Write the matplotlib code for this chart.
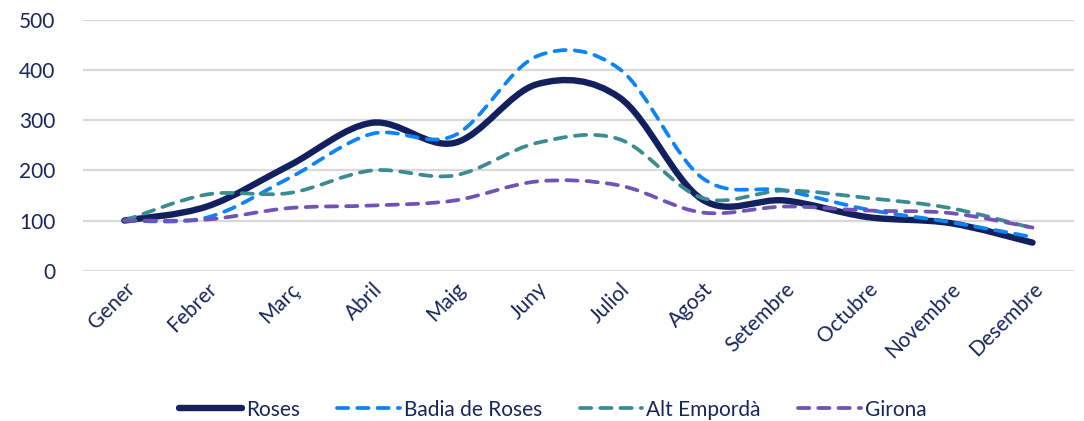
import numpy as np
import matplotlib
matplotlib.use("Agg")
import matplotlib.pyplot as plt
from matplotlib.path import Path
from matplotlib.patches import PathPatch
from matplotlib.lines import Line2D

plt.rcParams['font.family'] = ['Lato', 'DejaVu Sans']

months = ['Gener', 'Febrer', 'Març', 'Abril', 'Maig', 'Juny', 'Juliol',
          'Agost', 'Setembre', 'Octubre', 'Novembre', 'Desembre']
roses = [100, 128, 210, 295, 255, 372, 345, 142, 140, 107, 95, 56]
badia = [100, 106, 185, 273, 270, 428, 402, 185, 160, 122, 97, 67]
alt_emporda = [100, 152, 155, 200, 190, 255, 262, 145, 160, 145, 125, 85]
girona = [100, 102, 125, 130, 140, 178, 170, 116, 128, 120, 115, 86]

series = [
    ('Roses', roses, '#13205e', 4.6, None),
    ('Badia de Roses', badia, '#0b84f5', 2.7, (3.0, 2.4)),
    ('Alt Empordà', alt_emporda, '#3b8b93', 2.7, (3.0, 2.4)),
    ('Girona', girona, '#7252b6', 2.7, (3.0, 2.4)),
]
text_color = '#17265c'


def smooth_path(xs, ys):
    # Excel-style smoothed line: Catmull-Rom segments as cubic Bezier curves
    pts = np.column_stack([xs, ys]).astype(float)
    ext = np.vstack([pts[0], pts, pts[-1]])
    verts = [pts[0]]
    codes = [Path.MOVETO]
    for i in range(len(pts) - 1):
        p0, p1, p2, p3 = ext[i], ext[i + 1], ext[i + 2], ext[i + 3]
        verts += [p1 + (p2 - p0) / 6, p2 - (p3 - p1) / 6, p2]
        codes += [Path.CURVE4] * 3
    return Path(verts, codes)


fig = plt.figure(figsize=(10.84, 4.21), dpi=100)
ax = fig.add_axes([0.0766, 0.357, 0.914, 0.5955])

x = np.arange(len(months))
handles = []
for name, vals, color, lw, dashes in series:
    patch = PathPatch(smooth_path(x, vals), fill=False, edgecolor=color,
                      linewidth=lw, capstyle='round', joinstyle='round', zorder=3)
    if dashes:
        patch.set_linestyle((0, dashes))
    ax.add_patch(patch)
    h = Line2D([], [], color=color, linewidth=lw, solid_capstyle='round',
               dash_capstyle='round')
    if dashes:
        h.set_dashes(dashes)
    handles.append(h)

ax.set_xlim(-0.5, len(months) - 0.5)
ax.set_ylim(0, 500)
ax.set_yticks(range(0, 501, 100))
ax.set_xticks(x)
ax.set_xticklabels(months, rotation=45, ha='right', rotation_mode='anchor')
ax.tick_params(axis='both', length=0, labelsize=15, colors=text_color)
ax.tick_params(axis='y', pad=20)
ax.tick_params(axis='x', pad=6)
ax.grid(axis='y', color='#d9d9d9', linewidth=1.6)
ax.set_axisbelow(True)
for s in ax.spines.values():
    s.set_visible(False)

fig.legend(handles, [s[0] for s in series], loc='center', ncol=4,
           bbox_to_anchor=(0.51, 0.027), frameon=False, fontsize=15,
           handlelength=3.0, handletextpad=0.2, columnspacing=1.8,
           labelcolor=text_color)

fig.savefig('out.png', dpi=100)
